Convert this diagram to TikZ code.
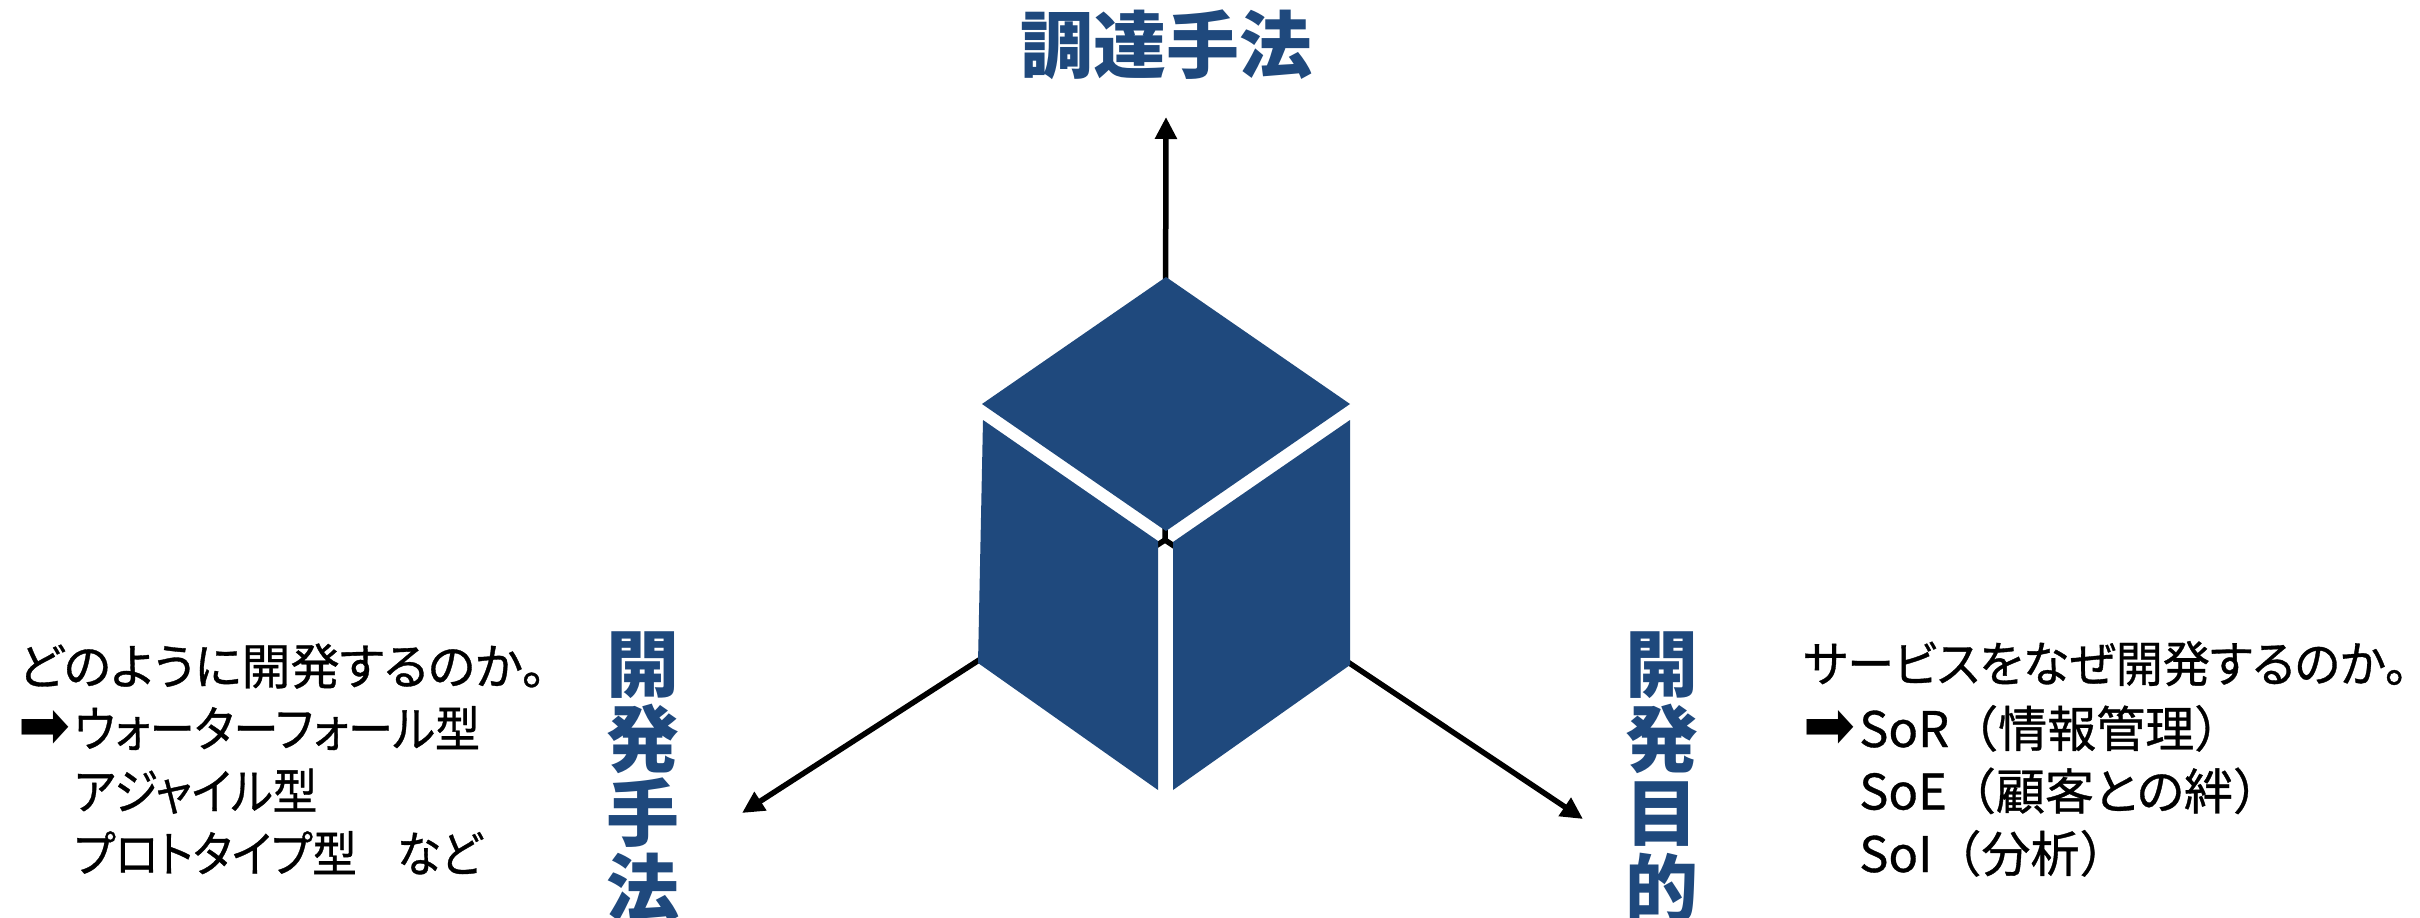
\documentclass[tikz,border=0pt]{standalone}
\usepackage{fontspec}
\usetikzlibrary{arrows.meta}
\newfontfamily\jp[RawFeature=+palt,FakeBold=0.7]{Noto Sans CJK JP}
\newfontfamily\jpf[FakeBold=0.7]{Noto Sans CJK JP}
\newfontfamily\jpb{Noto Sans CJK JP}
\newfontfamily\dv{DejaVu Sans}
\definecolor{cubeblue}{RGB}{31,73,125}
\newcommand{\blkarrow}{\makebox[56pt][l]{\raisebox{-1pt}{\resizebox{52pt}{38pt}{\dv ➡}}}}
\newcommand{\sqz}[2]{\scalebox{#1}[1]{#2}}
\tikzset{
  face/.style={fill=cubeblue},
  axis/.style={line width=5.5pt, -{Triangle[length=22pt,width=21pt]}},
  txt/.style={font=\jp\fontsize{49}{49}\selectfont, inner sep=0pt, anchor=base west},
  vlab/.style={font=\jpb\bfseries\fontsize{73}{74.5}\selectfont, text=cubeblue, align=center, anchor=north, inner sep=0pt},
  ttl/.style={font=\jpb\bfseries\fontsize{73}{73}\selectfont, text=cubeblue, anchor=base, inner sep=0pt}
}
\begin{document}
\begin{tikzpicture}[x=1pt,y=-1pt]
\useasboundingbox (0,0) rectangle (2420,918);
\fill[white] (0,0) rectangle (2420,918);
% axes
\coordinate (c) at (1165,540);
\coordinate (tipU) at (1166,117);
\coordinate (tipL) at (742,813);
\coordinate (tipR) at (1583,819);
\draw[axis] (c) -- (tipU);
\draw[axis] (c) -- (tipL);
\draw[axis] (c) -- (tipR);
% cube
\fill[face] (1166,277) -- (1350,404) -- (1166,531) -- (982,404) -- cycle;
\fill[face] (983,420) -- (1158,541) -- (1158,790) -- (978,663) -- cycle;
\fill[face] (1350,420) -- (1173,542) -- (1173,790) -- (1350,665) -- cycle;
% labels
\node[ttl] (title) at (1166,72) {調達手法};
\node[vlab] (vl) at (643,632) {開\\発\\手\\法};
\node[vlab] (vr) at (1662,632) {開\\発\\目\\的};
% left text
\node[txt] (l1) at (18,684.5) {どのように開発するのか。};
\node[txt] (l2) at (18,747) {\blkarrow\sqz{0.92}{ウォーターフォール型}};
\node[txt] (l3) at (74,809.5) {\sqz{0.91}{アジャイル型}};
\node[txt] (l4) at (74,872) {\sqz{0.91}{プロトタイプ型}\hspace{40pt}\sqz{0.91}{など}};
% right text
\node[txt] (r1) at (1803,682) {\sqz{0.96}{サービスをなぜ開発するのか。}};
\node[txt] (r2) at (1803,747) {\blkarrow SoR{\jpf （}情報管理{\jpf ）}};
\node[txt] (r3) at (1859,809.5) {SoE{\jpf （}顧客との絆{\jpf ）}};
\node[txt] (r4) at (1859,872) {SoI{\jpf （}分析{\jpf ）}};
\end{tikzpicture}
\end{document}
